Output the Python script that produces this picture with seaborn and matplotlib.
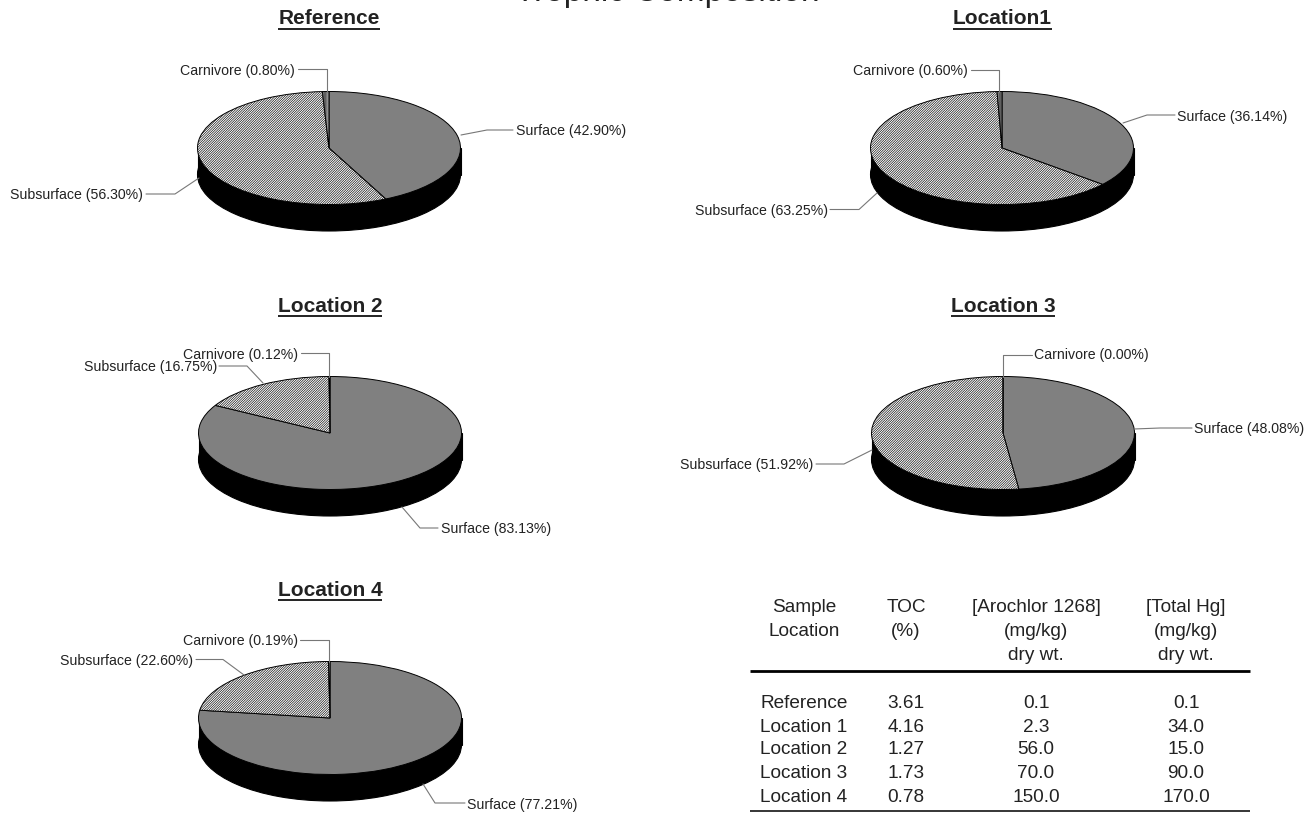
import matplotlib
matplotlib.use("Agg")
import matplotlib.pyplot as plt
import seaborn as sns

sns.set_theme(style="white")
plt.rcParams["font.family"] = ["Liberation Sans", "DejaVu Sans"]
plt.rcParams["hatch.linewidth"] = 0.45

W, H = 1311, 816
# data
trophic_names = ["Surface", "Subsurface", "Carnivore"]
pie_titles = ["Reference", "Location1", "Location 2", "Location 3", "Location 4"]
surface = [42.90, 36.14, 83.13, 48.08, 77.21]
subsurface = [56.30, 63.25, 16.75, 51.92, 22.60]
carnivore = [0.80, 0.60, 0.12, 0.00, 0.19]

table_header = [["Sample", "Location"], ["TOC", "(%)"],
                ["[Arochlor 1268]", "(mg/kg)", "dry wt."],
                ["[Total Hg]", "(mg/kg)", "dry wt."]]
sample_location = ["Reference", "Location 1", "Location 2", "Location 3", "Location 4"]
toc = ["3.61", "4.16", "1.27", "1.73", "0.78"]
arochlor = ["0.1", "2.3", "56.0", "70.0", "150.0"]
total_hg = ["0.1", "34.0", "15.0", "90.0", "170.0"]

# layout (pixels)
centres = [(329, 148), (1002, 148), (330, 433), (1003, 433), (330, 718)]
title_y = [19, 19, 306, 306, 590]
RX, RY, DEPTH = 131.5, 56.5, 26.5
label_layout = [
    [(516, 131, "left"), (143, 194, "right"), (295, 70, "right")],
    [(1177, 116, "left"), (828, 210, "right"), (968, 70, "right")],
    [(441, 528, "left"), (217, 367, "right"), (298, 354, "right")],
    [(1194, 428, "left"), (813, 465, "right"), (1034, 355, "left")],
    [(467, 804, "left"), (193, 660, "right"), (298, 641, "right")],
]
leader_layout = [
    [[(461, 135), (487, 130), (513, 130)], [(146, 194), (175, 194), (199, 178)], [(298, 69), (327, 69), (327, 92)]],
    [[(1123, 123), (1147, 115), (1175, 115)], [(830, 209.5), (859, 209.5), (877, 193)], [(971, 69.5), (999, 69.5), (999, 92)]],
    [[(402, 507), (420, 528), (438, 528)], [(219, 366), (247, 366), (263, 383)], [(301, 353), (329, 353), (329, 377)]],
    [[(1134, 429), (1160, 428), (1192, 428)], [(816, 464), (844, 464), (872, 450)], [(1032, 355), (1003, 355), (1003, 377)]],
    [[(423, 784), (435, 803), (465, 803)], [(196, 659.5), (223, 659.5), (244, 675)], [(300, 640), (329, 640), (329, 662)]],
]

fig = plt.figure(figsize=(W / 100, H / 100), dpi=100, facecolor="white")

for i, (cx, cy) in enumerate(centres):
    ax = fig.add_axes([(cx - RX) / W, 1 - (cy + RY + DEPTH) / H, 2 * RX / W, (2 * RY + DEPTH) / H])
    d = DEPTH / RY
    # solid black side of the disc
    ax.pie([1], colors=["black"], radius=1, center=(0, -d), frame=False, normalize=True,
           wedgeprops={"clip_on": False, "edgecolor": "black", "linewidth": 0.8})
    ax.bar(0, d, width=2, bottom=-d, color="black", edgecolor="black", linewidth=0.8, clip_on=False)
    vals = [surface[i], subsurface[i], carnivore[i]]
    wedges, _ = ax.pie(vals, colors=["#808080", "white", "white"], startangle=90, counterclock=False,
                       radius=1, frame=False, normalize=True,
                       wedgeprops={"edgecolor": "black", "linewidth": 0.7, "clip_on": False})
    wedges[1].set_hatch("/" * 14)
    wedges[2].set_hatch("|" * 14)
    ax.set_aspect("auto")
    ax.set_xlim(-1, 1)
    ax.set_ylim(-1 - d, 1)
    ax.set_axis_off()

ov = fig.add_axes([0, 0, 1, 1], zorder=10)
ov.set_xlim(0, W)
ov.set_ylim(H, 0)
ov.set_axis_off()
ov.patch.set_alpha(0)

TXT = "#222222"
ov.text(667, 1.5, "Trophic Composition", fontsize=24, ha="center", va="baseline", color=TXT)

for i, (cx, cy) in enumerate(centres):
    t = ov.text(cx, title_y[i], pie_titles[i], fontsize=15, fontweight="bold", ha="center", va="center", color=TXT)
    fig.canvas.draw()
    bb = t.get_window_extent()
    ov.plot([bb.x0, bb.x1], [title_y[i] + 9.5] * 2, color=TXT, lw=1.4, solid_capstyle="butt")
    vals = [surface[i], subsurface[i], carnivore[i]]
    for name, v, (x, y, ha), path in zip(trophic_names, vals, label_layout[i], leader_layout[i]):
        ov.text(x, y + 4.5, f"{name} ({v:.2f}%)", fontsize=10.2, ha=ha, va="baseline", color=TXT)
        ov.plot([p[0] for p in path], [p[1] for p in path], color="#777777", lw=0.8)

# table
col_x = [804, 906, 1036, 1186]
header_y = [606, 630, 654]
row_y = [701, 725, 748, 772, 795]
for x, lines in zip(col_x, table_header):
    for y, s in zip(header_y, lines):
        ov.text(x, y + 6.5, s, fontsize=13.7, ha="center", va="baseline", color=TXT)
for x, col in zip(col_x, [sample_location, toc, arochlor, total_hg]):
    for y, s in zip(row_y, col):
        ov.text(x, y + 6.5, s, fontsize=13.7, ha="center", va="baseline", color=TXT)
ov.plot([750, 1250], [671, 671], color="black", lw=2, solid_capstyle="butt")
ov.plot([750, 1250], [811, 811], color="black", lw=1.1, solid_capstyle="butt")

fig.savefig("out.png", dpi=100, facecolor="white")
